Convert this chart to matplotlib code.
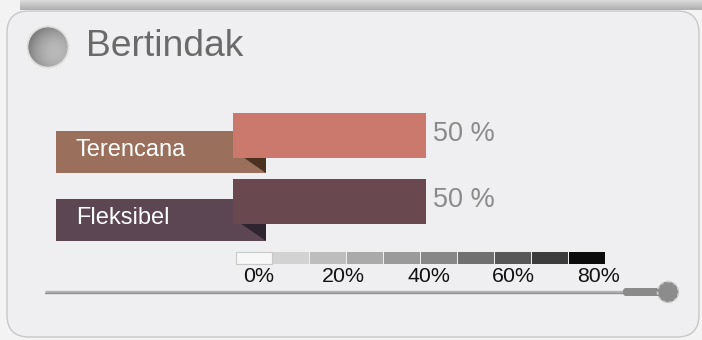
import matplotlib
matplotlib.use("Agg")
import matplotlib.pyplot as plt
import numpy as np
from matplotlib.patches import Rectangle, FancyBboxPatch, Circle, Polygon

plt.rcParams["font.family"] = ["Liberation Sans", "DejaVu Sans"]

title = "Bertindak"
categories = ["Terencana", "Fleksibel"]
values = [50, 50]
bar_colors = ["#cb786d", "#6a4850"]
tag_colors = ["#9a6f5b", "#5c4654"]
fold_colors = ["#4b3220", "#2f2530"]
scale_ticks = [0, 20, 40, 60, 80]
scale_greys = ["#f7f7f7", "#d2d2d2", "#bdbdbd", "#aaaaaa", "#9a9a9a",
               "#878787", "#707070", "#575757", "#3c3c3c", "#0c0c0c"]

W, H = 702, 340
fig = plt.figure(figsize=(W / 100, H / 100), dpi=100)
fig.patch.set_facecolor("#f3f3f4")

# background layer in pixel coordinates
bg = fig.add_axes([0, 0, 1, 1])
bg.set_xlim(0, W)
bg.set_ylim(H, 0)
bg.axis("off")

# grey strip along the top
grad = np.linspace(0.86, 0.68, 20).reshape(-1, 1)
bg.imshow(grad, cmap="gray", vmin=0, vmax=1, extent=(20, W, 10, 0),
          aspect="auto", zorder=1)

# panel
panel = FancyBboxPatch((7, 11), 692, 326, boxstyle="round,pad=0,rounding_size=22",
                       facecolor="#efeff1", edgecolor="#c8c8ca", lw=1.0, zorder=2)
bg.add_patch(panel)

# round grey icon next to the title
yy, xx = np.mgrid[-1:1:80j, -1:1:80j]
shade = 0.55 + 0.3 * (xx * 0.6 + yy * 0.4 + 1) / 2 - 0.12 * (xx ** 2 + yy ** 2)
icon = bg.imshow(shade, cmap="gray", vmin=0, vmax=1, extent=(28, 68, 67, 27),
                 zorder=3)
clip = Circle((48, 47), 20, transform=bg.transData)
icon.set_clip_path(clip)
bg.add_patch(Circle((48, 47), 20.5, facecolor="none", edgecolor="#dcdcdc",
                    lw=1.2, zorder=4))
bg.text(86, 47, title, fontsize=26.8, color="#6a6a6a", va="center", ha="left",
        zorder=5)

# category tags with folded corner
for i, (name, tc, fc) in enumerate(zip(categories, tag_colors, fold_colors)):
    top = 131 + i * 68
    bg.add_patch(Rectangle((56, top), 210, 42, facecolor=tc, edgecolor="none",
                           zorder=3))
    bg.add_patch(Polygon([(240, top + 24), (266, top + 24), (266, top + 42)],
                         closed=True, facecolor=fc, edgecolor="none", zorder=4))
    bg.text(76, top + 19.5, name, fontsize=17, color="white", va="center",
            ha="left", zorder=5)

# bars
ax = fig.add_axes([233 / W, 1 - 234.7 / H, 386 / W, 132.7 / H])
ax.set_xlim(0, 100)
ax.set_ylim(len(categories) - 0.5, -0.5)
ax.axis("off")
ax.patch.set_alpha(0)
ypos = np.arange(len(categories))
ax.barh(ypos, values, height=0.678, color=bar_colors, left=0)
for y, v in zip(ypos, values):
    ax.text(v + 1.9, y - 0.02, f"{v} %", fontsize=19.5, color="#8a8a8a",
            va="center", ha="left")

# grey scale legend
cell_w = 37
for k, g in enumerate(scale_greys):
    bg.add_patch(Rectangle((236 + k * cell_w, 252), cell_w - 1, 12,
                           facecolor=g, edgecolor="#c9c9c9" if k == 0 else "none",
                           lw=0.8, zorder=3))
for t in scale_ticks:
    bg.text(258.5 + t * 4.25, 277, f"{t}%", fontsize=15.4, color="#111111",
            ha="center", va="center", zorder=5)

# slider line with knob
bg.plot([45, 626], [291.7, 291.7], color="#b0b0b0", lw=2.4,
        solid_capstyle="butt", zorder=3)
bg.plot([45, 626], [292.6, 292.6], color="#8e8e8e", lw=0.8, zorder=3)
bg.add_patch(FancyBboxPatch((623, 288), 40, 8, boxstyle="round,pad=0,rounding_size=3",
                            facecolor="#8a8a8a", edgecolor="none", zorder=4))
bg.add_patch(Circle((668, 292), 10.5, facecolor="#8c8c8c", edgecolor="#cfcfcf",
                    lw=1.2, ls=(0, (2, 1.5)), zorder=5))

fig.savefig("out.png", dpi=100, facecolor=fig.get_facecolor())
